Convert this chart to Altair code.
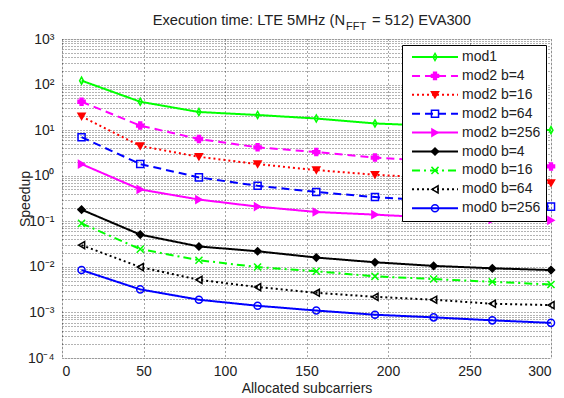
import altair as alt
import pandas as pd

# ---------------- data ----------------
x_vals = [12, 48, 84, 120, 156, 192, 228, 264, 300]
series_names = ["mod1", "mod2 b=4", "mod2 b=16", "mod2 b=64", "mod2 b=256",
                "mod0 b=4", "mod0 b=16", "mod0 b=64", "mod0 b=256"]
mod1 = [122, 42, 25, 21.5, 18, 14, 12.5, 11, 10]
mod2_b4 = [42, 12.6, 6.4, 4.2, 3.3, 2.5, 2.1, 1.8, 1.6]
mod2_b16 = [20, 4.5, 2.6, 1.8, 1.33, 1.05, 0.9, 0.78, 0.69]
mod2_b64 = [7.0, 1.8, 0.92, 0.6, 0.44, 0.34, 0.28, 0.24, 0.21]
mod2_b256 = [1.8, 0.5, 0.3, 0.21, 0.16, 0.14, 0.12, 0.11, 0.105]
mod0_b4 = [0.18, 0.051, 0.028, 0.022, 0.016, 0.0126, 0.0105, 0.0093, 0.0085]
mod0_b16 = [0.09, 0.0245, 0.014, 0.0099, 0.008, 0.0062, 0.0054, 0.0047, 0.0041]
mod0_b64 = [0.030, 0.0099, 0.0052, 0.0036, 0.0027, 0.0022, 0.0019, 0.00155, 0.00145]
mod0_b256 = [0.0085, 0.0032, 0.0019, 0.0014, 0.0011, 0.00089, 0.00078, 0.00067, 0.00059]
series_values = [mod1, mod2_b4, mod2_b16, mod2_b64, mod2_b256,
                 mod0_b4, mod0_b16, mod0_b64, mod0_b256]

x_ticks = [0, 50, 100, 150, 200, 250, 300]
y_major = [1e-4, 1e-3, 1e-2, 1e-1, 1, 10, 100, 1000]
y_major_labels = ["10\u207b\u2074", "10\u207b\u00b3", "10\u207b\u00b2", "10\u207b\u00b9",
                  "10\u2070", "10\u00b9", "10\u00b2", "10\u00b3"]
title_main = "Execution time: LTE 5MHz (N"
title_sub = "FFT"
title_rest = "= 512) EVA300"
x_title = "Allocated subcarriers"
y_title = "Speedup"

# ---------------- styles ----------------
colors = ["#00ff00", "#ff00ff", "#ff0000", "#0000ff", "#ff00ff",
          "#000000", "#00ff00", "#000000", "#0000ff"]
dashes = [[1, 0], [8, 5], [2, 3], [8, 5], [1, 0],
          [1, 0], [8, 4, 2, 4], [2, 3], [1, 0]]
shapes = ["M0,-1L0.55,0L0,1L-0.55,0Z", "cross", "triangle-down", "square", "triangle-right",
          "diamond", "M-1,-1L1,1M-1,1L1,-1", "triangle-left", "circle"]
fills = ["transparent", "#ff00ff", "#ff0000", "transparent", "#ff00ff",
         "#000000", "transparent", "transparent", "transparent"]

rows = []
for name, vals in zip(series_names, series_values):
    for xv, yv in zip(x_vals, vals):
        rows.append({"x": xv, "y": yv, "series": name, "series_pt": name})
df = pd.DataFrame(rows)

y_ticks = []
for m in y_major[:-1]:
    for k in range(1, 10):
        y_ticks.append(m * k)
y_ticks.append(1000)

label_expr = ""
for v, lab in zip(y_major, y_major_labels):
    label_expr += f"abs(datum.value - {v}) < {v}*1e-6 ? '{lab}' : "
label_expr += "''"

FONT = "Liberation Sans"

xenc = alt.X("x:Q", scale=alt.Scale(domain=[0, 300], nice=False),
             axis=alt.Axis(values=x_ticks, grid=True, gridDash=[1, 3], gridColor="#000",
                           gridOpacity=0.7, tickSize=0, domain=False,
                           labelFontSize=14, labelColor="#222", labelPadding=6,
                           labelFont=FONT, title=x_title, titleFont=FONT,
                           titleFontSize=14, titleFontWeight="normal", titleColor="#222",
                           titlePadding=3))
yenc = alt.Y("y:Q", scale=alt.Scale(type="log", domain=[1e-4, 1e3], nice=False),
             axis=alt.Axis(values=y_ticks, labelExpr=label_expr, grid=True,
                           gridDash=[1, 2], gridColor="#000", gridOpacity=0.6,
                           tickSize=0, domain=False, labelFontSize=14, labelColor="#222",
                           labelFont=FONT, labelPadding=8, title=y_title, titleFont=FONT,
                           titleFontSize=14, titleFontWeight="normal", titleColor="#222",
                           titlePadding=-5))


def make_legend(z, label_opacity, boxed, stroke_w):
    kw = dict(title=None, orient="none", legendX=340, legendY=6,
              symbolSize=50, symbolStrokeWidth=stroke_w, symbolOffset=21,
              labelOffset=20, labelFontSize=14, labelFont=FONT, labelColor="#222",
              labelOpacity=label_opacity, rowPadding=4.9, padding=5,
              labelLimit=200, zindex=z)
    if boxed:
        kw.update(fillColor="white", strokeColor="#000",
                  symbolType="M-6.5,0L6.5,0")
    return alt.Legend(**kw)


line_legend = make_legend(1, 1, True, 2)
pt_legend = make_legend(2, 0, False, 1.5)

lines = alt.Chart(df).mark_line(strokeWidth=2).encode(
    x=xenc, y=yenc,
    stroke=alt.Stroke("series:N", scale=alt.Scale(domain=series_names, range=colors),
                      legend=line_legend),
    strokeDash=alt.StrokeDash("series:N", scale=alt.Scale(domain=series_names, range=dashes),
                              legend=line_legend),
    order="x:Q",
)

points = alt.Chart(df).mark_point(size=50, strokeWidth=1.5, opacity=1).encode(
    x=xenc, y=yenc,
    stroke=alt.Stroke("series_pt:N", scale=alt.Scale(domain=series_names, range=colors),
                      legend=pt_legend),
    fill=alt.Fill("series_pt:N", scale=alt.Scale(domain=series_names, range=fills),
                  legend=pt_legend),
    shape=alt.Shape("series_pt:N", scale=alt.Scale(domain=series_names, range=shapes),
                    legend=pt_legend),
)

tdf = pd.DataFrame({"a": [title_main], "b": [title_sub], "c": [title_rest]})
t1 = alt.Chart(tdf).mark_text(align="right", baseline="alphabetic", fontSize=14.7,
                              font=FONT, color="#222").encode(
    x=alt.value(283), y=alt.value(-14), text="a:N")
t2 = alt.Chart(tdf).mark_text(align="left", baseline="alphabetic", fontSize=11,
                              font=FONT, color="#222").encode(
    x=alt.value(284), y=alt.value(-9), text="b:N")
t3 = alt.Chart(tdf).mark_text(align="left", baseline="alphabetic", fontSize=14.7,
                              font=FONT, color="#222").encode(
    x=alt.value(310), y=alt.value(-14), text="c:N")

chart = alt.layer(lines, points, t1, t2, t3).resolve_scale(
    stroke="independent", strokeDash="independent", fill="independent", shape="independent"
).resolve_legend(
    stroke="independent", strokeDash="independent", fill="independent", shape="independent"
).properties(
    width=489, height=319,
    autosize=alt.AutoSizeParams(type="none"),
    padding={"left": 54, "top": 31, "right": 5, "bottom": 40},
).configure_view(stroke="#000", strokeWidth=1).configure(background="white")

chart.save("out.html", embed_options={"renderer": "svg", "actions": False})
